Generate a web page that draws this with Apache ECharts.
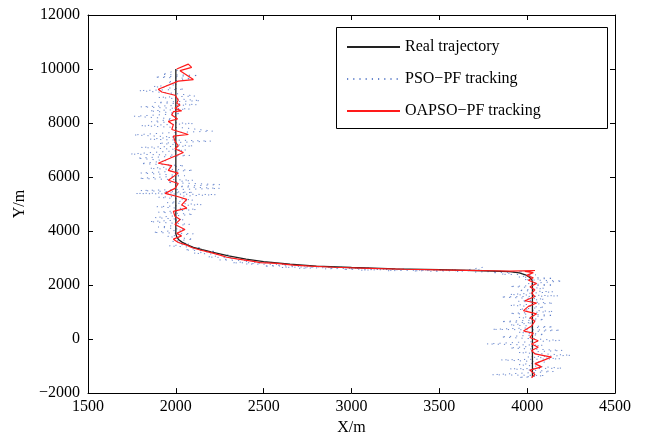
<!DOCTYPE html>
<html>
<head>
<meta charset="utf-8">
<script src="https://cdn.jsdelivr.net/npm/echarts@6/dist/echarts.min.js"></script>
<style>html,body{margin:0;padding:0;background:#fff;}#chart{width:647px;height:441px;}</style>
</head>
<body>
<div id="chart"></div>
<script>
// ---- data ----
var seriesNames = ['Real trajectory', 'PSO\u2212PF tracking', 'OAPSO\u2212PF tracking'];
var xRange = [1500, 4500];
var yRange = [-2000, 12000];
var xTickStep = 500;
var yTickStep = 2000;

var realTrajectory = [
  [2000,10000],[2000,3900],[2004,3800],[2015,3690],[2035,3590],[2065,3490],[2100,3400],[2150,3310],
  [2200,3230],[2300,3080],[2400,2960],[2500,2870],[2650,2775],[2800,2705],[3000,2650],[3250,2600],
  [3500,2570],[3750,2530],[3900,2495],[3955,2450],[3990,2380],[4015,2280],[4027,2190],[4030,2100],[4030,-1400]
];

var psoTracking = [
  [2010,9950],[1920,9800],[2130,9760],[1880,9700],[2090,9650],[1950,9520],[2010,9420],[1870,9350],
  [2050,9250],[1790,9200],[1990,9100],[2110,9000],[1900,8950],[2140,8830],[1880,8760],[2120,8680],
  [1800,8600],[2080,8520],[1850,8450],[2030,8350],[1760,8250],[2000,8150],[1860,8050],[2100,7980],
  [1800,7900],[2050,7820],[2210,7700],[1960,7640],[1760,7560],[1990,7480],[1850,7400],[2200,7330],
  [1900,7250],[2100,7150],[1800,7100],[2060,7000],[1740,6850],[2080,6800],[1780,6700],[1950,6600],
  [1800,6500],[2050,6420],[1850,6320],[2100,6250],[1800,6150],[2050,6050],[1790,5950],[2100,5880],
  [1950,5800],[2250,5720],[2000,5650],[2250,5580],[1800,5500],[2100,5430],[1770,5390],[2230,5350],
  [1900,5250],[2100,5150],[1950,5050],[2150,4980],[1890,4900],[2120,4800],[1900,4700],[2100,4620],
  [1880,4500],[2050,4420],[1850,4350],[2080,4250],[1900,4150],[2050,4050],[1870,3950],[2100,3900],
  [1950,3800],[2100,3700],[1980,3620],[2080,3520],[1960,3450],[2150,3380],[2050,3300],[2230,3250],
  [2100,3180],[2300,3120],[2180,3040],[2350,3000],[2250,2930],[2450,2900],[2320,2820],[2550,2840],
  [2400,2780],[2650,2760],[2500,2700],[2750,2720],[2600,2650],[2850,2690],[2700,2620],[2950,2660],
  [2850,2600],[3100,2640],[2950,2580],[3200,2600],[3050,2550],[3300,2590],[3200,2530],[3450,2560],
  [3350,2520],[3600,2570],[3450,2510],[3700,2550],[3600,2500],[3750,2660],[3700,2480],[3850,2510],
  [3800,2450],[3980,2500],[3850,2400],[4050,2380],[3950,2300],[4150,2250],[3980,2200],[4200,2150],
  [4000,2050],[4150,2000],[3900,1950],[4100,1880],[3950,1800],[4150,1750],[3900,1650],[4180,1600],
  [3850,1560],[4100,1480],[3950,1400],[4150,1330],[3900,1250],[4100,1180],[3950,1100],[4150,1020],
  [3900,950],[4150,880],[3950,800],[4100,720],[3850,650],[4030,600],[3900,520],[4150,450],
  [3800,360],[4190,330],[3950,250],[4100,170],[3850,80],[4190,-50],[3950,-120],[3770,-180],
  [4090,-230],[3900,-330],[4200,-420],[3950,-500],[4250,-600],[4000,-660],[4190,-730],[3850,-770],
  [4100,-850],[3950,-950],[4200,-1080],[3900,-1100],[4150,-1200],[3800,-1320],[4100,-1350],[3950,-1420],
  [4030,-1400]
];

var oapsoTracking = [
  [2005,10000],[2071,10180],[2090,10060],[2024,9940],[2100,9610],[2014,9550],[1900,9250],[1920,9150],
  [1995,9030],[2014,8850],[2005,8730],[2024,8670],[1995,8545],[2033,8450],[1986,8420],[1977,8300],
  [2010,8150],[1957,8060],[1986,7940],[1977,7760],[2071,7575],[1986,7515],[1995,7330],[2014,7150],
  [1995,7050],[2043,6910],[1900,6510],[1977,6425],[1957,6245],[2014,6145],[1957,5880],[2014,5760],
  [1995,5580],[1939,5395],[2014,5270],[2062,5175],[2033,4970],[2062,4850],[1986,4730],[1995,4545],
  [2024,4425],[1995,4245],[2052,4060],[2005,3915],[2033,3820],[1986,3700],[2014,3575],[2062,3480],
  [2090,3390],[2138,3300],[2195,3210],[2252,3110],[2290,3030],[2347,2970],[2442,2880],[2480,2830],
  [2574,2800],[2669,2740],[2764,2700],[2900,2660],[3100,2620],[3300,2585],[3500,2560],[3650,2545],
  [3800,2530],[3900,2520],[4044,2540],[3987,2510],[4035,2460],[3997,2360],[4035,2270],[4007,2180],
  [4054,2060],[4016,1940],[4044,1820],[4025,1700],[4044,1575],[3987,1420],[4054,1335],[4007,1210],
  [3979,1055],[4054,935],[4016,790],[4044,665],[4025,485],[3979,300],[4035,220],[4016,60],
  [4063,-60],[4025,-180],[4063,-305],[4025,-425],[4044,-545],[4139,-665],[4092,-790],[4044,-910],
  [4082,-1030],[4016,-1150],[4044,-1310],[4025,-1430],[4030,-1400]
];

// ---- chart ----
var FONT = 'Liberation Serif';
var chart = echarts.init(document.getElementById('chart'), null, {renderer: 'canvas'});

function plainNumber(v) {
  return (v < 0 ? '\u2212' : '') + String(Math.abs(v));
}

function axisBase(extra) {
  var a = {
    type: 'value',
    axisLine: {show: true, onZero: false, lineStyle: {color: '#000', width: 1}},
    axisTick: {show: true, inside: true, length: 5, lineStyle: {color: '#000', width: 1}},
    splitLine: {show: false},
    axisLabel: {show: true, color: '#000', fontFamily: FONT, fontSize: 16, formatter: plainNumber}
  };
  for (var k in extra) a[k] = extra[k];
  return a;
}

var option = {
  animation: false,
  backgroundColor: '#fff',
  grid: {left: 88, right: 32, top: 15, bottom: 41, containLabel: false},
  xAxis: [
    axisBase({min: xRange[0], max: xRange[1], interval: xTickStep, position: 'bottom',
      name: 'X/m', nameLocation: 'middle', nameGap: 23,
      nameTextStyle: {color: '#000', fontFamily: FONT, fontSize: 16},
      axisLabel: {show: true, color: '#000', fontFamily: FONT, fontSize: 16, margin: 6, formatter: plainNumber}}),
    axisBase({min: xRange[0], max: xRange[1], interval: xTickStep, position: 'top',
      axisLabel: {show: false}})
  ],
  yAxis: [
    axisBase({min: yRange[0], max: yRange[1], interval: yTickStep, position: 'left',
      name: 'Y/m', nameLocation: 'middle', nameGap: 55,
      nameTextStyle: {color: '#000', fontFamily: FONT, fontSize: 16},
      axisLabel: {show: true, color: '#000', fontFamily: FONT, fontSize: 16, margin: 8, formatter: plainNumber}}),
    axisBase({min: yRange[0], max: yRange[1], interval: yTickStep, position: 'right',
      axisLabel: {show: false}})
  ],
  graphic: [{
    type: 'rect', z: 1,
    shape: {x: 336.5, y: 27.5, width: 271, height: 101},
    style: {fill: '#fff', stroke: '#000', lineWidth: 1}
  }],
  legend: {
    orient: 'vertical', left: 346, top: 39, padding: 0,
    itemWidth: 53, itemHeight: 16, itemGap: 16,
    selectedMode: false, z: 5,
    itemStyle: {opacity: 0},
    textStyle: {color: '#000', fontFamily: FONT, fontSize: 16, lineHeight: 16},
    data: seriesNames
  },
  series: [
    {
      name: seriesNames[0], type: 'line', data: realTrajectory, symbol: 'none',
      lineStyle: {color: '#222', width: 1.3}, itemStyle: {color: '#222'}, z: 2
    },
    {
      name: seriesNames[1], type: 'line', data: psoTracking, symbol: 'none',
      lineStyle: {color: '#4f72c4', width: 1, type: [1.2, 5], opacity: 0.85},
      itemStyle: {color: '#4f72c4'}, z: 1
    },
    {
      name: seriesNames[2], type: 'line', data: oapsoTracking, symbol: 'none',
      lineStyle: {color: '#ff1a1a', width: 1.2}, itemStyle: {color: '#ff1a1a'}, z: 3
    }
  ]
};
chart.setOption(option);
</script>
</body>
</html>
